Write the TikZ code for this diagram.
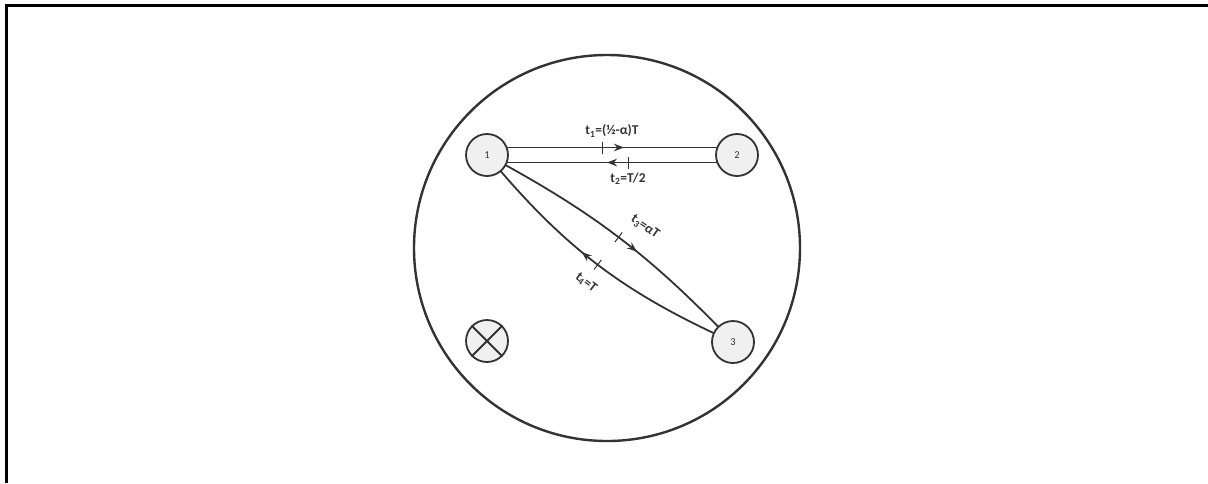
\documentclass[tikz,border=0pt]{standalone}
\usepackage{fontspec}
\setmainfont{Carlito}
\usetikzlibrary{decorations.markings,arrows.meta,calc,backgrounds}
\definecolor{linec}{HTML}{333333}
\definecolor{nodef}{HTML}{F0F0F0}
\tikzset{
  stn/.style={circle,draw=linec,line width=1.8pt,fill=nodef,minimum size=42pt,inner sep=0pt,text=linec,font=\fontsize{10.5}{10.5}\selectfont},
  lnk/.style={draw=linec,line width=1.8pt},
  tickarrow/.style 2 args={postaction={decorate},decoration={markings,
      mark=at position #1 with {\draw[linec,line width=1pt] (0,-6pt)--(0,6pt);},
      mark=at position #2 with {\arrow[linec]{Stealth[length=10pt,width=7.5pt]}}}},
  lbl/.style={font=\bfseries\fontsize{13.5}{14}\selectfont,text=linec,inner sep=0pt}
}
\begin{document}
\begin{tikzpicture}[x=1pt,y=-1pt]
\useasboundingbox (0,0) rectangle (1208,483);
\draw[line width=3pt] (6,483) -- (6,5) -- (1208,5);
\node[circle,draw=linec,line width=2.4pt,minimum size=386pt,inner sep=0pt] (env) at (607,248) {};
\node[stn] (n1) at (487,155) {1};
\node[stn] (n2) at (737,155) {2};
\node[stn] (n3) at (733,342) {3};
\node[stn] (n4) at (487,341) {};
\draw[linec,line width=1.8pt] (n4.north west) -- (n4.south east);
\draw[linec,line width=1.8pt] (n4.north east) -- (n4.south west);
\begin{scope}[on background layer]
\draw[lnk,tickarrow={0.46}{0.548}] ($(n1)+(0,-7.5)$) -- ($(n2)+(0,-7.5)$);
\draw[lnk,tickarrow={0.436}{0.52}] ($(n2)+(0,7.5)$) -- ($(n1)+(0,7.5)$);
\draw[lnk,tickarrow={0.5}{0.575}] (n1.center) to[bend left=9] (n3.center);
\draw[lnk,tickarrow={0.5}{0.565}] (n3.center) to[bend left=13] (n1.center);
\end{scope}
\node[lbl] (l1) at (612,131) {t\textsubscript{1}=(½-α)T};
\node[lbl] (l2) at (628,179) {t\textsubscript{2}=T/2};
\node[lbl,rotate=-35] (l3) at (645,227) {t\textsubscript{3}=αT};
\node[lbl,rotate=-38] (l4) at (586,283) {t\textsubscript{4}=T};
\end{tikzpicture}
\end{document}
